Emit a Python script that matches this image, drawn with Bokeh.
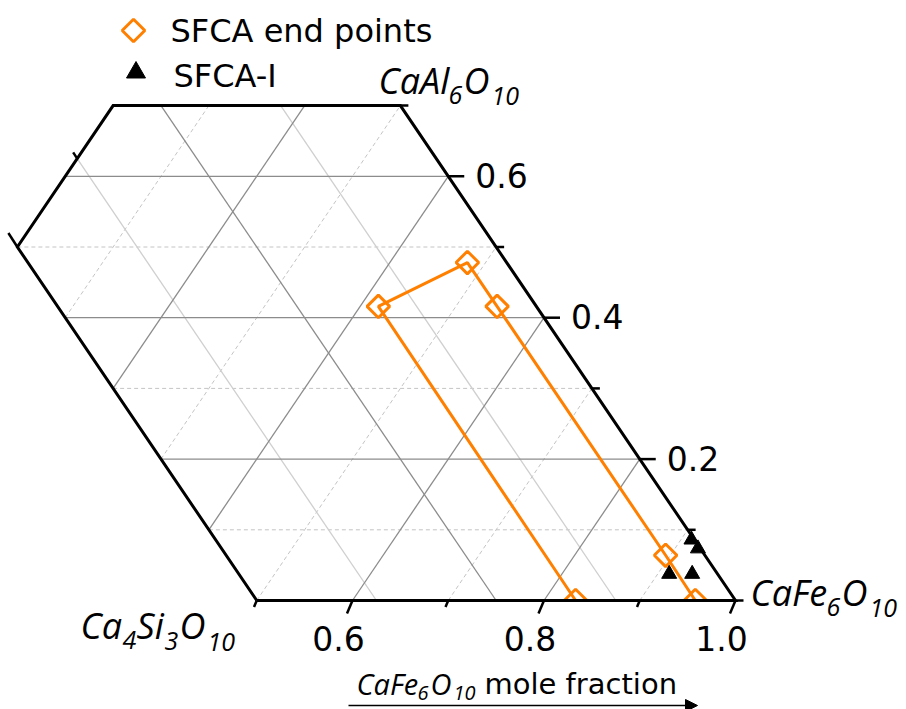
import numpy as np
from bokeh.plotting import figure
from bokeh.models import Range1d, Arrow, NormalHead
from bokeh.core.properties import value
from bokeh.embed import file_html
from bokeh.resources import INLINE

# ---------------- data (mole fractions) ----------------
# SFCA end points, in path order (CaFe6O10, CaAl6O10 fractions; Ca4Si3O10 = rest)
end_fe = [0.833, 0.419, 0.481, 0.543, 0.895, 0.958]
end_al = [0.000, 0.416, 0.478, 0.416, 0.064, 0.000]
# SFCA-I compositions
sfca1_fe = [0.912, 0.936, 0.911, 0.924]
sfca1_al = [0.0375, 0.0375, 0.086, 0.0735]

# axis limits of the shown part of the ternary
AL_MAX = 0.7
SI_MAX = 0.5

fe_major = [0.6, 0.8, 1.0]
fe_major_labels = ["0.6", "0.8", "1.0"]
fe_minor = [0.5, 0.7, 0.9]
al_major = [0.2, 0.4, 0.6]
al_major_labels = ["0.2", "0.4", "0.6"]
al_minor = [0.0, 0.1, 0.3, 0.5, 0.7]
si_major = [0.5]
si_minor = [0.375]

fe_grid_major = [0.2, 0.4, 0.6, 0.8]
fe_grid_minor = [0.1, 0.3, 0.5, 0.7, 0.9]
al_grid_major = [0.2, 0.4, 0.6]
al_grid_minor = [0.1, 0.3, 0.5]
si_grid_major = [0.25]
si_grid_minor = [0.125, 0.375]

legend_labels = ["SFCA end points", "SFCA-I"]

# ---------------- geometry ----------------
W, H = 906, 709
SX = 957.5   # px per unit of X
SY = 707.0   # px per unit of Y
X0 = 222.5 / SX
X1 = X0 + W / SX
Y1 = 600.0 / SY
Y0 = Y1 - H / SY


def tx(fe, al):
    return fe + al / 2.0, al


def px2d(px, py):
    return X0 + px / SX, Y1 - py / SY


ORANGE = "#ff8000"

p = figure(width=W, height=H, x_range=Range1d(X0, X1), y_range=Range1d(Y0, Y1),
           output_backend="svg", toolbar_location=None, min_border=0,
           x_axis_type=None, y_axis_type=None, outline_line_color=None,
           background_fill_color="white", border_fill_color="white")
p.xgrid.visible = False
p.ygrid.visible = False


def seg_fe(f):
    a0 = max(0.0, 1 - SI_MAX - f)
    a1 = min(AL_MAX, 1 - f)
    (xa, ya), (xb, yb) = tx(f, a0), tx(f, a1)
    return [xa, xb], [ya, yb]


def seg_al(a):
    f0 = max(0.0, 1 - SI_MAX - a)
    f1 = 1 - a
    (xa, ya), (xb, yb) = tx(f0, a), tx(f1, a)
    return [xa, xb], [ya, yb]


def seg_si(s):
    a1 = min(AL_MAX, 1 - s)
    (xa, ya), (xb, yb) = tx(1 - s, 0.0), tx(1 - s - a1, a1)
    return [xa, xb], [ya, yb]


def multi(segs):
    return [s[0] for s in segs], [s[1] for s in segs]


# minor dashed grid
xs, ys = multi([seg_fe(f) for f in fe_grid_minor] + [seg_al(a) for a in al_grid_minor])
p.multi_line(xs, ys, line_color="#c4c4c4", line_width=1, line_dash="4 3")
# light solid grid (Si minor)
xs, ys = multi([seg_si(s) for s in si_grid_minor])
p.multi_line(xs, ys, line_color="#cfcfcf", line_width=1.3)
# major grid
xs, ys = multi([seg_fe(f) for f in fe_grid_major] + [seg_al(a) for a in al_grid_major]
               + [seg_si(s) for s in si_grid_major])
p.multi_line(xs, ys, line_color="#8c8c8c", line_width=1.3)

# data
DIA = dict(marker="square", size=16, angle=45, angle_units="deg",
           line_color=ORANGE, line_width=3, fill_color=None)
TRI = dict(marker="triangle", fill_color="black", line_color="black", line_width=1)

ex = [fe + al / 2 for fe, al in zip(end_fe, end_al)]
ey = end_al
p.line(ex, ey, line_color=ORANGE, line_width=3)
p.scatter(ex, ey, **DIA)
sx_ = [fe + al / 2 for fe, al in zip(sfca1_fe, sfca1_al)]
p.scatter(sx_, sfca1_al, size=15, **TRI)

# white mask below the CaFe6O10 axis (clips markers at the axis)
p.quad(left=[X0], right=[X1], bottom=[Y0], top=[0.0], fill_color="white",
       line_color=None)

# boundary
corners = [tx(1 - SI_MAX, 0), tx(1, 0), tx(1 - AL_MAX, AL_MAX), tx(0, AL_MAX),
           tx(0, 1 - SI_MAX), tx(1 - SI_MAX, 0)]
p.line([c[0] for c in corners], [c[1] for c in corners], line_color="black",
       line_width=3, line_join="miter")

# ticks
tick_xs, tick_ys = [], []
for f, L in [(f, 1.0) for f in fe_major] + [(f, 0.5) for f in fe_minor]:
    x, y = tx(f, 0)
    tick_xs.append([x, x - L * 5.5 / SX])
    tick_ys.append([y, y - L * 13 / SY])
for a, L in [(a, 16) for a in al_major] + [(a, 8) for a in al_minor]:
    x, y = tx(1 - a, a)
    tick_xs.append([x, x + L / SX])
    tick_ys.append([y, y])
for s, L in [(s, 1.0) for s in si_major] + [(s, 0.45) for s in si_minor]:
    x, y = tx(0, 1 - s)
    tick_xs.append([x, x - L * 9 / SX])
    tick_ys.append([y, y + L * 14 / SY])
p.multi_line(tick_xs, tick_ys, line_color="black", line_width=2.5)

SANS = value("DejaVu Sans")
# Fe tick labels
fx = [tx(f, 0)[0] for f in fe_major]
p.text(fx, [0] * len(fx), text=fe_major_labels, text_font=SANS,
       text_font_size="33px", text_align="center", text_baseline="middle",
       x_offset=-14, y_offset=38, text_color="black")
# Al tick labels
ax = [tx(1 - a, a)[0] for a in al_major]
p.text(ax, al_major, text=al_major_labels, text_font=SANS,
       text_font_size="33px", text_align="left", text_baseline="middle",
       x_offset=27, y_offset=-1, text_color="black")

# chemical labels (pieces with subscripts): text, origin x px, centre y px, size
ITAL = value("Open Sans")
label_pieces = [
    # CaAl6O10
    ("CaAl", 378, 80, 36), ("6", 448, 94, 25), ("O", 463, 80, 36), ("10", 491, 95, 25),
    # CaFe6O10
    ("CaFe", 750, 592, 36), ("6", 826, 606, 25), ("O", 841, 592, 36), ("10", 869, 607, 25),
    # Ca4Si3O10
    ("Ca", 80, 625, 36), ("4", 122, 639, 25), ("Si", 136, 625, 36), ("3", 164, 640, 25),
    ("O", 179, 625, 36), ("10", 207, 641, 25),
    # axis title
    ("CaFe", 356, 683, 29), ("6", 417, 692, 20), ("O", 430, 683, 29), ("10", 453, 692, 20),
]
for t, px, py, fs in label_pieces:
    x, y = px2d(px, py)
    p.text([x], [y], text=[t], text_font=ITAL, text_font_style="italic",
           text_font_size=f"{fs}px", text_align="left", text_baseline="middle",
           text_color="black")
x, y = px2d(484, 683)
p.text([x], [y], text=["mole fraction"], text_font=SANS, text_font_size="29px",
       text_align="left", text_baseline="middle", text_color="black")

# arrow under the title
xa, ya = px2d(348, 705)
xb, yb = px2d(697, 705)
p.add_layout(Arrow(end=NormalHead(size=12, fill_color="black", line_color="black"),
                   x_start=xa, y_start=ya, x_end=xb, y_end=yb,
                   line_color="black", line_width=1.5))

# legend (drawn as keys + labels)
lx, ly = px2d(133, 30)
p.scatter([lx], [ly], **DIA)
lx, ly = px2d(135.5, 72)
p.scatter([lx], [ly], size=19, **TRI)
for t, px, py in zip(legend_labels, [170, 173], [30, 75]):
    x, y = px2d(px, py)
    p.text([x], [y], text=[t], text_font=SANS, text_font_size="32px",
           text_align="left", text_baseline="middle", text_color="black")

open("out.html", "w").write(file_html(p, INLINE))
